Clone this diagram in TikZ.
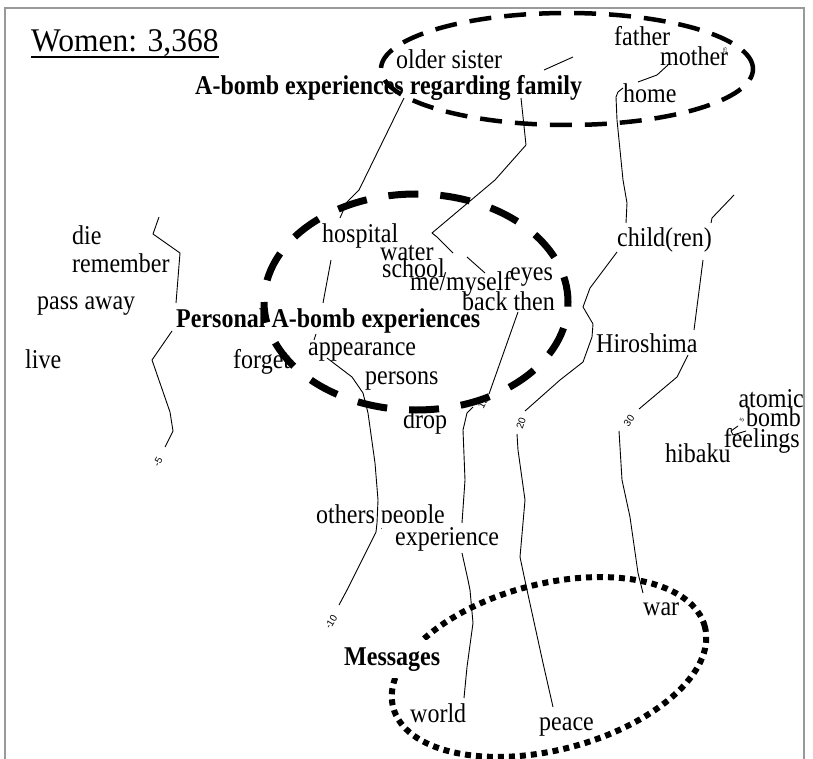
\documentclass[tikz,border=0pt]{standalone}
\usepackage{fontspec}
\setmainfont{Liberation Serif}
\newfontfamily\lsans{Liberation Sans}
\newcommand\TT[1]{\scalebox{1}[1.13]{#1}}
\begin{document}
\begin{tikzpicture}[x=1pt,y=-1pt,
  w/.style={inner sep=0pt, anchor=base west, font=\fontsize{24}{24}\selectfont},
  we/.style={w, anchor=base east},
  lab/.style={inner sep=0pt, anchor=base west, font=\fontsize{24}{24}\selectfont\bfseries},
  cl/.style={line width=0.9pt, line join=round},
  clab/.style={inner sep=0pt, font=\lsans\fontsize{10}{10}\selectfont},
  frameline/.style={draw=black!40, line width=1.2pt},
  famring/.style={line width=4.5pt, dash pattern=on 22pt off 13pt},
  perring/.style={line width=7pt, dash pattern=on 30pt off 22pt, dash phase=30pt},
  msgring/.style={line width=6pt, dash pattern=on 6pt off 5pt}]
\useasboundingbox (0,0) rectangle (813,759);
\fill[white] (0,0) rectangle (813,759);
\begin{scope}
\clip (5,8) rectangle (804,770);
% contour lines
\draw[cl] (159,217) -- (153,234) -- (180,253) -- (176,303);
\draw[cl] (172,331) -- (152,360) -- (170,412) -- (173,431) -- (165,447);
\draw[cl] (404,98) -- (359,190) -- (347,202) -- (340,218);
\draw[cl] (331,260) -- (323,303);
\draw[cl] (316,334) -- (314,340);
\draw[cl] (327,358) -- (352,377) -- (363,393) -- (368,413) -- (375,463) -- (378,500) -- (377,523) -- (376,532) -- (367,550) -- (347,590) -- (339,605);
\draw[cl] (521,98) -- (526,145) -- (495,180) -- (432,233) -- (437,237) -- (453,253);
\draw[cl] (467,257) -- (485,273);
\draw[cl] (544,70) -- (573,57);
\draw[cl] (668,65) -- (657,75) -- (638,82);
\draw[cl] (518,312) -- (489,394);
\draw[cl] (473,407) -- (467,413) -- (463,430) -- (465,480) -- (462,523);
\draw[cl] (462,553) -- (468,580) -- (470,590) -- (473,623) -- (467,667) -- (464,698);
\draw[cl] (623,88) -- (618,92) -- (616,97) -- (617,120) -- (621,160) -- (623,180) -- (627,203) -- (626,223);
\draw[cl] (617,252) -- (590,288) -- (583,307) -- (593,324) -- (592,337) -- (583,362) -- (560,380) -- (525,411);
\draw[cl] (517,434) -- (518,450) -- (525,500) -- (520,557) -- (527,590) -- (543,663) -- (553,707);
\draw[cl] (734,195) -- (712,218) -- (711,223);
\draw[cl] (703,260) -- (694,330);
\draw[cl] (688,355) -- (677,377) -- (639,409);
\draw[cl] (619,431) -- (622,480) -- (630,517) -- (638,573) -- (643,593);
\draw[cl] (738,426) -- (731,431) -- (733,435) -- (746,431);
% contour labels
\node[clab, rotate=62] (cm5) at (158,462) {-5};
\node[clab, rotate=58] (cm10) at (331,622) {-10};
\node[clab, rotate=62] (c15) at (483,403) {15};
\node[clab, rotate=72] (c20) at (521,423) {20};
\node[clab, rotate=55] (c30) at (629,421) {30};
\node[clab, rotate=60, font=\lsans\fontsize{6}{6}\selectfont] (c45) at (742,420) {5};
\node[clab, rotate=90, font=\lsans\fontsize{5}{5}\selectfont] (c25) at (725,51) {25};
% words
\node[inner sep=0pt, anchor=base west, font=\fontsize{31.5}{31.5}\selectfont] (women) at (31,52) {\scalebox{1}[1.05]{Women: 3,368}};
\draw[line width=2pt] ([yshift=-5pt]women.base west) -- ([yshift=-5pt]women.base east);
\node[w] (oldersister) at (396,69) {\TT{older sister}};
\node[w] (father) at (614,46) {\TT{father}};
\node[w] (mother) at (660,66) {\TT{mother}};
\node[w] (home) at (623,103) {\TT{home}};
\node[lab] (family) at (195,95) {\TT{A-bomb experiences regarding family}};
\node[w] (die) at (72,244) {\TT{die}};
\node[w] (remember) at (72,272) {\TT{remember}};
\node[w] (passaway) at (37,309) {\TT{pass away}};
\node[w] (live) at (25,368) {\TT{live}};
\node[w] (forget) at (233,368) {\TT{forget}};
\node[lab] (personal) at (176,327) {\TT{Personal A-bomb experiences}};
\node[w] (hospital) at (322,243) {\TT{hospital}};
\node[w] (water) at (380,260) {\TT{water}};
\node[w] (school) at (382,277) {\TT{school}};
\node[w] (memyself) at (410,290) {\TT{me/myself}};
\node[w] (eyes) at (510,280) {\TT{eyes}};
\node[w] (backthen) at (462,310) {\TT{back then}};
\node[w] (appearance) at (308,355) {\TT{appearance}};
\node[w] (persons) at (365,384) {\TT{persons}};
\node[w] (drop) at (403,428) {\TT{drop}};
\node[w] (children) at (617,247) {\TT{child(ren)}};
\node[w] (hiroshima) at (596,352) {\TT{Hiroshima}};
\node[we] (atomic) at (804,407) {\TT{atomic}};
\node[we] (bomb) at (801,426) {\TT{bomb}};
\node[we] (feelings) at (800,447) {\TT{feelings}};
\node[w] (hibaku) at (665,462) {\TT{hibaku}};
\node[w] (otherspeople) at (316,523) {\TT{others people}};
\node[w, fill=white, inner xsep=13pt, text height=22pt, text depth=7pt] (experience) at (382,545) {\TT{experience}};
\node[w] (war) at (643,615) {\TT{war}};
\node[w] (world) at (410,722) {\TT{world}};
\node[w] (peace) at (539,730) {\TT{peace}};
% rings
\draw[famring] (567,69) ellipse [x radius=186pt, y radius=56pt];
\draw[perring] (264,302) arc [start angle=180, end angle=-180, x radius=152pt, y radius=108pt];
\draw[msgring, rotate around={14.5:(549,667)}] (549,667) ellipse [x radius=161pt, y radius=83pt];
\node[lab, fill=white, inner sep=7pt] (messages) at (337,665) {\TT{Messages}};
\end{scope}
% frame
\draw[frameline] (5,770) -- (5,8) -- (804,8) -- (804,770);
\end{tikzpicture}
\end{document}
